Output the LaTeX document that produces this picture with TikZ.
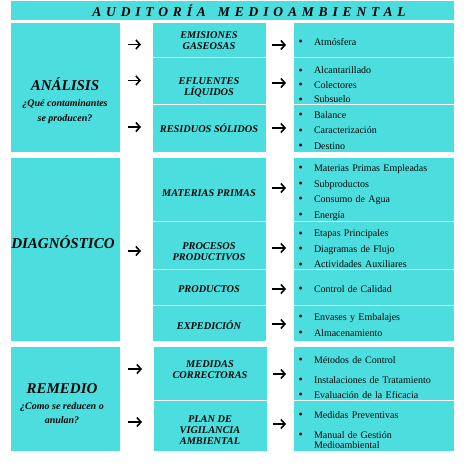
\documentclass[tikz,border=0pt]{standalone}
\usepackage{fontspec}
\setmainfont{Liberation Serif}
\usepackage{tikz}
\usetikzlibrary{arrows.meta}
\definecolor{AuditCyan}{RGB}{76,222,222}
\definecolor{AuditInk}{RGB}{5,5,5}
\newcommand{\itm}[1]{\makebox[15.5pt][l]{\raisebox{-0.3pt}{\fontsize{12}{12}\selectfont\textbullet}}#1}
\tikzset{
  cell/.style 2 args={fill=AuditCyan,draw=white,line width=0.8pt,inner sep=0pt,
    outer sep=0pt,anchor=north west,minimum width=#1,minimum height=#2},
  head/.style={font=\fontsize{10.3}{11}\selectfont\bfseries\itshape,align=center,text=AuditInk},
  items/.style={font=\fontsize{10}{15.5}\selectfont,align=left,text width=150pt,text=AuditInk},
  block/.style={font=\fontsize{10}{15}\selectfont\bfseries\itshape,align=center,text=AuditInk},
  arrA/.style={-{Straight Barb[length=4pt,width=9pt]},line width=1.6pt,shorten <=8pt,shorten >=11pt},
  arrB/.style={-{Straight Barb[length=4pt,width=9pt]},line width=1.6pt,shorten <=6pt,shorten >=7pt}
}

\begin{document}
\begin{tikzpicture}[x=1pt,y=-1pt]
  \useasboundingbox[fill=white] (0,0) rectangle (476,470);

  \node[cell={444pt}{20pt}] (title) at (10,0) {};
  \node[font=\fontsize{13.5}{15}\selectfont\bfseries\itshape\addfontfeatures{LetterSpace=36}]
    (titletext) at (249,11) {AUDITORÍA\hspace{12pt}MEDIOAMBIENTAL};

  \node[cell={110pt}{130pt}] (ana) at (10,22) {};
  \node[cell={110pt}{184pt}] (diag) at (10,157) {};
  \node[cell={110pt}{105pt}] (rem) at (10,346) {};

  \node[block] (anatext) at (65,100.5)
    {{\fontsize{15}{17}\selectfont ANÁLISIS}\\[1.5pt]¿Qué contaminantes\\se producen?};
  \node[block,font=\fontsize{15}{17}\selectfont\bfseries\itshape] (diagtext) at (63,242) {DIAGNÓSTICO};
  \node[block,font=\fontsize{10}{14.5}\selectfont\bfseries\itshape] (remtext) at (62,404)
    {{\fontsize{15}{17}\selectfont REMEDIO}\\[1pt]¿Como se reducen o\\anulan?};

  \node[cell={114pt}{35pt}] (emi) at (152,22) {};
  \node[cell={114pt}{47pt}] (efl) at (152,57) {};
  \node[cell={114pt}{48pt}] (res) at (152,104) {};
  \node[cell={114pt}{64pt}] (mat) at (152,157) {};
  \node[cell={114pt}{48pt}] (proc) at (152,221) {};
  \node[cell={114pt}{36pt}] (prod) at (152,269) {};
  \node[cell={114pt}{36pt}] (exped) at (152,305) {};
  \node[cell={114pt}{54pt}] (med) at (153,346) {};
  \node[cell={114pt}{51pt}] (plan) at (153,400) {};

  \node[head] at ([yshift=-1.5pt]emi.center) {EMISIONES\\GASEOSAS};
  \node[head] at ([yshift=-7pt]efl.center) {EFLUENTES\\LÍQUIDOS};
  \node[head] at (res.center) {RESIDUOS SÓLIDOS};
  \node[head] at ([yshift=-4pt]mat.center) {MATERIAS PRIMAS};
  \node[head] at ([yshift=-7pt]proc.center) {PROCESOS\\PRODUCTIVOS};
  \node[head] at ([yshift=-2pt]prod.center) {PRODUCTOS};
  \node[head] at ([yshift=-2pt]exped.center) {EXPEDICIÓN};
  \node[head] at ([yshift=3pt]med.center) {MEDIDAS\\CORRECTORAS};
  \node[head] at ([yshift=-4.5pt]plan.center) {PLAN DE\\VIGILANCIA\\AMBIENTAL};

  \node[cell={161pt}{35pt}] (emilist) at (293,22) {};
  \node[cell={161pt}{47pt}] (efllist) at (293,57) {};
  \node[cell={161pt}{48pt}] (reslist) at (293,104) {};
  \node[cell={161pt}{64pt}] (matlist) at (293,157) {};
  \node[cell={161pt}{48pt}] (proclist) at (293,221) {};
  \node[cell={161pt}{36pt}] (prodlist) at (293,269) {};
  \node[cell={161pt}{36pt}] (expedlist) at (293,305) {};
  \node[cell={161pt}{54pt}] (medlist) at (293,346) {};
  \node[cell={161pt}{51pt}] (planlist) at (293,400) {};

  \node[items] at ([yshift=-2.5pt]emilist.center) {\itm{Atmósfera}};
  \node[items,font=\fontsize{10}{14.5}\selectfont] at ([yshift=-4.5pt]efllist.center)
    {\itm{Alcantarillado}\\\itm{Colectores}\\\itm{Subsuelo}};
  \node[items] at ([yshift=-2.5pt]reslist.center) {\itm{Balance}\\\itm{Caracterización}\\\itm{Destino}};
  \node[items] at ([yshift=-3.5pt]matlist.center)
    {\itm{Materias Primas Empleadas}\\\itm{Subproductos}\\\itm{Consumo de Agua}\\\itm{Energía}};
  \node[items] at ([yshift=-4pt]proclist.center)
    {\itm{Etapas Principales}\\\itm{Diagramas de Flujo}\\\itm{Actividades Auxiliares}};
  \node[items] at ([yshift=-2pt]prodlist.center) {\itm{Control de Calidad}};
  \node[items] at ([yshift=-2pt]expedlist.center) {\itm{Envases y Embalajes}\\\itm{Almacenamiento}};
  \node[items] at ([yshift=-4.5pt]medlist.center)
    {\itm{Métodos de Control}\\[4.5pt]\itm{Instalaciones de Tratamiento}\\\itm{Evaluación de la Eficacia}};
  \node[items] at ([yshift=-4.5pt]planlist.center)
    {\itm{Medidas Preventivas}\\[4.5pt]\itm{Manual de Gestión}\\[-5.5pt]\hspace*{15.5pt}Medioambiental};

  \draw[arrA] ([yshift=-5pt]ana.east |- emi.west) -- ([yshift=-5pt]emi.west);
  \draw[arrA] (ana.east |- efl.west) -- (efl.west);
  \draw[arrA] ([yshift=1pt]ana.east |- res.west) -- ([yshift=1pt]res.west);
  \draw[arrA] ([yshift=-2pt]diag.east) -- ([yshift=-2pt]diag.east -| mat.west);
  \draw[arrA] ([yshift=4pt]rem.east |- med.west) -- ([yshift=4pt]med.west);
  \draw[arrA] ([yshift=3.5pt]rem.east |- plan.west) -- ([yshift=3.5pt]plan.west);

  \draw[arrB] ([yshift=-5.5pt]emi.east) -- ([yshift=-5.5pt]emilist.west);
  \draw[arrB] ([yshift=-2.5pt]efl.east) -- ([yshift=-2.5pt]efllist.west);
  \draw[arrB] (res.east) -- (reslist.west);
  \draw[arrB] ([yshift=1pt]mat.east) -- ([yshift=1pt]matlist.west);
  \draw[arrB] ([yshift=-3pt]proc.east) -- ([yshift=-3pt]proclist.west);
  \draw[arrB] ([yshift=-2pt]prod.east) -- ([yshift=-2pt]prodlist.west);
  \draw[arrB] ([yshift=-1pt]exped.east) -- ([yshift=-1pt]expedlist.west);
  \draw[arrB] ([yshift=-1pt]med.east) -- ([yshift=-1pt]medlist.west);
  \draw[arrB] ([yshift=1.5pt]plan.east) -- ([yshift=1.5pt]planlist.west);
\end{tikzpicture}
\end{document}
